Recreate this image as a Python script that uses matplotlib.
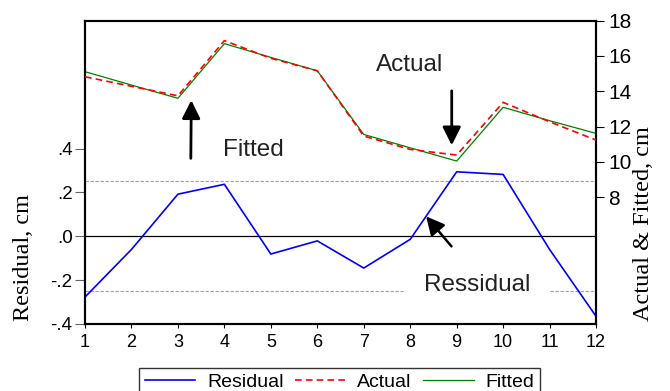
import numpy as np
import matplotlib
matplotlib.use('Agg')
import matplotlib.pyplot as plt

plt.rcParams['font.family'] = ['Liberation Sans', 'DejaVu Sans']

obs = [1, 2, 3, 4, 5, 6, 7, 8, 9, 10, 11, 12]
residual = [-0.277, -0.06, 0.192, 0.237, -0.081, -0.021, -0.145, -0.014, 0.294, 0.282, -0.06, -0.365]
actual = [14.82, 14.28, 13.74, 16.87, 15.87, 15.16, 11.46, 10.70, 10.38, 13.37, 12.27, 11.23]
fitted = [15.11, 14.35, 13.60, 16.70, 15.92, 15.16, 11.55, 10.79, 10.04, 13.09, 12.33, 11.61]

left_ticks = [-0.4, -0.2, 0.0, 0.2, 0.4]
left_labels = ['-.4', '-.2', '.0', '.2', '.4']
right_ticks = [8, 10, 12, 14, 16, 18]
band = 0.25

fig = plt.figure(figsize=(6.7, 3.91), dpi=100)
ax = fig.add_axes([0.1269, 0.1714, 0.7627, 0.7756])
ax2 = ax.twinx()

# residual on the left axis
ax.axhline(0, color='black', lw=0.9, zorder=1)
ax.axhline(band, color='#a0a0a0', ls=(0, (3, 1.5)), lw=0.8, zorder=1)
ax.axhline(-band, color='#a0a0a0', ls=(0, (3, 1.5)), lw=0.8, zorder=1)
l1, = ax.plot(obs, residual, color='#0000ff', lw=1.2, label='Residual', zorder=2)

# actual & fitted on the right axis
l2, = ax2.plot(obs, actual, color='#ff0000', lw=1.2, ls=(0, (4, 2.5)), label='Actual', zorder=3)
l3, = ax2.plot(obs, fitted, color='#008000', lw=0.9, label='Fitted', zorder=2)

ax.set_xlim(1, 12)
ax.set_ylim(-0.4, 0.983)
ax2.set_ylim(0.8, 18)
ax.set_xticks(obs)
ax.set_yticks(left_ticks)
ax.set_yticklabels(left_labels)
ax2.set_yticks(right_ticks)

ax.tick_params(axis='x', direction='out', length=3, labelsize=13, pad=4)
ax.tick_params(axis='y', direction='out', length=7, width=0.8, color='#666666', labelsize=13.5, pad=2)
ax2.tick_params(axis='y', direction='out', length=6, width=0.8, labelsize=15, pad=3)

for a in (ax, ax2):
    for s in a.spines.values():
        s.set_linewidth(1.5)

ax.set_ylabel('Residual, cm', family='Liberation Serif', fontsize=17.5)
ax.yaxis.set_label_coords(-0.0998, 0.2176)
ax2.set_ylabel('Actual & Fitted, cm', family='Liberation Serif', fontsize=17.5)
ax2.yaxis.set_label_coords(1.0724, 0.331)

# annotations
arrow = dict(arrowstyle='-|>,head_length=0.46,head_width=0.23', color='black', lw=2, mutation_scale=24)
ax.annotate('', xy=(0.208, 0.747), xytext=(0.207, 0.537), xycoords='axes fraction', arrowprops=arrow)
ax.text(0.329, 0.574, 'Fitted', transform=ax.transAxes, fontsize=17.5, color='#222222', ha='center', va='center')
ax.text(0.636, 0.854, 'Actual', transform=ax.transAxes, fontsize=17.5, color='#222222', ha='center', va='center')
ax.annotate('', xy=(0.7176, 0.580), xytext=(0.7176, 0.778), xycoords='axes fraction', arrowprops=arrow)
ax.annotate('', xy=(0.664, 0.362), xytext=(0.7206, 0.249), xycoords='axes fraction',
            arrowprops=dict(arrowstyle='-|>,head_length=0.46,head_width=0.23', color='black', lw=1.8, mutation_scale=24))
ax2.text(0.767, 0.129, 'Ressidual', transform=ax.transAxes, fontsize=17.5, color='#222222', ha='center', va='center',
         zorder=5, bbox=dict(facecolor='white', edgecolor='none', pad=14))

leg = fig.legend([l1, l2, l3], ['Residual', 'Actual', 'Fitted'], loc='upper center',
                 bbox_to_anchor=(0.507, 0.060), ncol=3, fontsize=14, frameon=True, fancybox=False,
                 edgecolor='black', handlelength=2.6, handletextpad=0.6, columnspacing=0.6,
                 borderpad=0.3, borderaxespad=0)
leg.get_frame().set_linewidth(1.0)

fig.savefig('out.png', dpi=100)
